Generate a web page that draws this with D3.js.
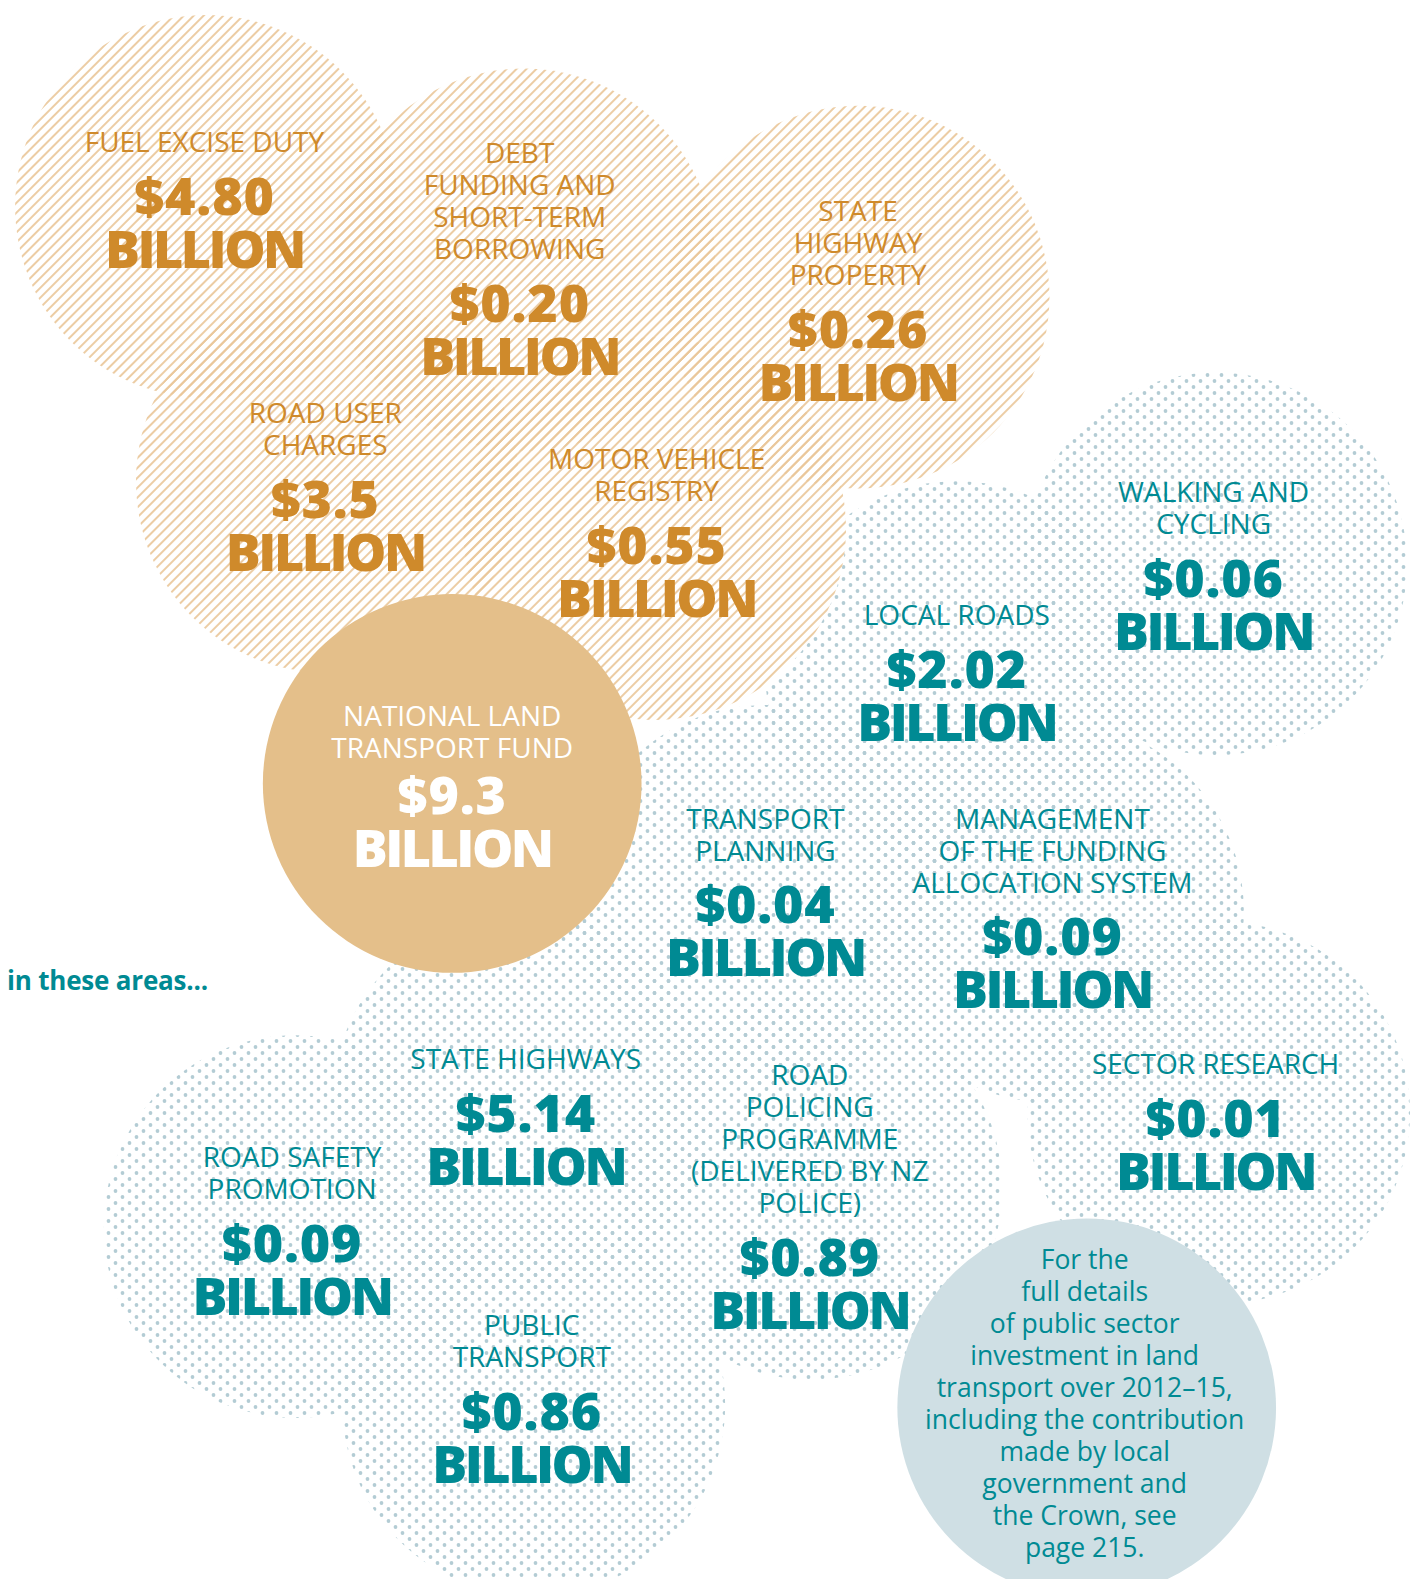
<!DOCTYPE html>
<html>
<head>
<meta charset="utf-8">
<script src="https://cdn.jsdelivr.net/npm/d3@7"></script>
<style>
  html, body { margin: 0; padding: 0; background: #ffffff; }
  svg { display: block; }
</style>
</head>
<body>
<svg id="chart" width="1411" height="1579"></svg>
<script>
// ---------- DATA ----------
// Funding sources (hatched bubbles)
const sourceLabels = [
  ["FUEL EXCISE DUTY"],
  ["DEBT", "FUNDING AND", "SHORT-TERM", "BORROWING"],
  ["STATE", "HIGHWAY", "PROPERTY"],
  ["ROAD USER", "CHARGES"],
  ["MOTOR VEHICLE", "REGISTRY"]
];
const sourceValues = [4.80, 0.20, 0.26, 3.5, 0.55];
const sourceDecimals = [2, 2, 2, 1, 2];

// Fund total
const fundLabel = ["NATIONAL LAND", "TRANSPORT FUND"];
const fundValue = 9.3;
const fundDecimals = 1;

// Investment areas (dotted bubbles)
const areaLabels = [
  ["WALKING AND", "CYCLING"],
  ["LOCAL ROADS"],
  ["TRANSPORT", "PLANNING"],
  ["MANAGEMENT", "OF THE FUNDING", "ALLOCATION SYSTEM"],
  ["SECTOR RESEARCH"],
  ["STATE HIGHWAYS"],
  ["ROAD SAFETY", "PROMOTION"],
  ["ROAD", "POLICING", "PROGRAMME", "(DELIVERED BY NZ", "POLICE)"],
  ["PUBLIC", "TRANSPORT"]
];
const areaValues = [0.06, 2.02, 0.04, 0.09, 0.01, 5.14, 0.09, 0.89, 0.86];
const areaDecimals = [2, 2, 2, 2, 2, 2, 2, 2, 2];

const unitWord = "BILLION";
const introText = "in these areas...";
const noteLines = ["For the", "full details", "of public sector", "investment in land",
  "transport over 2012\u201315,", "including the contribution", "made by local",
  "government and", "the Crown, see", "page 215."];

// ---------- LAYOUT (positions in layout units, 1401 x 1568 frame) ----------
const sourceCircles = [[205, 205], [520, 258], [852, 295], [325, 478], [650, 525]];
const sourceText = [[203, 140], [516, 151], [852, 209], [323, 409], [652, 455]];
const areaCircles = [[1207, 560], [950, 668], [760, 890], [1045, 905], [1210, 1105],
  [520, 1095], [293, 1218], [805, 1180], [530, 1395]];
const areaText = [[1205, 488], [950, 610], [760, 812], [1045, 812], [1207, 1056],
  [522, 1051], [290, 1148], [804, 1067], [528, 1315]];
const fundCircle = [449, 778];
const fundText = [449, 710];
const noteCircle = [1079, 1398];
const noteTextTop = [1077, 1250];
const introPos = [7, 973];
const bubbleR = 190;

// ---------- STYLE ----------
const ORANGE = "#cf8a2b";
const HATCH = "#eac79a";
const TEAL = "#008a93";
const DOT = "#b3ccd4";
const FUND = "#e4bf8a";
const NOTE = "#cfdfe4";
const labelFont = "'Open Sans', 'Noto Sans', sans-serif";

const W = 1411, H = 1579;
const x = d3.scaleLinear().domain([0, 1401]).range([0, W]);
const y = d3.scaleLinear().domain([0, 1568]).range([0, H]);
const r = d3.scaleLinear().domain([0, 1401]).range([0, W]);

const svg = d3.select("#chart");
const defs = svg.append("defs");

// hatch pattern
const hp = defs.append("pattern").attr("id", "hatch")
  .attr("patternUnits", "userSpaceOnUse").attr("width", 7.0).attr("height", 7.0)
  .attr("patternTransform", "rotate(45)");
hp.append("line").attr("x1", 1).attr("y1", 0).attr("x2", 1).attr("y2", 7.0)
  .attr("stroke", HATCH).attr("stroke-width", 1.8);

// dot pattern
const dp = defs.append("pattern").attr("id", "dots")
  .attr("patternUnits", "userSpaceOnUse").attr("width", 14).attr("height", 12);
dp.append("circle").attr("cx", 3.5).attr("cy", 3).attr("r", 1.9).attr("fill", DOT);
dp.append("circle").attr("cx", 10.5).attr("cy", 9).attr("r", 1.9).attr("fill", DOT);

const fmt = (v, d) => "$" + d3.format("." + d + "f")(v);

// dotted union
const gA = svg.append("g");
gA.selectAll("circle").data(areaCircles).join("circle")
  .attr("cx", d => x(d[0])).attr("cy", d => y(d[1])).attr("r", r(bubbleR))
  .attr("fill", "url(#dots)");

// hatched union (white under, hatch over)
const gS = svg.append("g");
gS.selectAll("circle.w").data(sourceCircles).join("circle").attr("class", "w")
  .attr("cx", d => x(d[0])).attr("cy", d => y(d[1])).attr("r", r(bubbleR))
  .attr("fill", "#fff");
gS.selectAll("circle.h").data(sourceCircles).join("circle").attr("class", "h")
  .attr("cx", d => x(d[0])).attr("cy", d => y(d[1])).attr("r", r(bubbleR))
  .attr("fill", "url(#hatch)");

// fund circle
svg.append("circle").attr("cx", x(fundCircle[0])).attr("cy", y(fundCircle[1]))
  .attr("r", r(188)).attr("fill", FUND);
// note circle
svg.append("circle").attr("cx", x(noteCircle[0])).attr("cy", y(noteCircle[1]))
  .attr("r", r(188)).attr("fill", NOTE);

const LABEL_STEP = 31.7, BILL_GAP = 52.5;

function bubbleText(g, labels, value, decimals, pos, color, valueGap) {
  const t = g.append("g");
  labels.forEach((ln, i) => {
    t.append("text").attr("x", x(pos[0])).attr("y", y(pos[1] + i * LABEL_STEP))
      .attr("text-anchor", "middle").attr("dominant-baseline", "central")
      .attr("font-family", labelFont).attr("font-size", 28).attr("font-weight", 400)
      .attr("fill", color).text(ln);
  });
  const last = pos[1] + (labels.length - 1) * LABEL_STEP;
  t.append("text").attr("x", x(pos[0])).attr("y", y(last + valueGap))
    .attr("text-anchor", "middle").attr("dominant-baseline", "central")
    .attr("font-family", labelFont).attr("font-size", 52).attr("font-weight", 800)
    .attr("letter-spacing", 0.8)
    .attr("fill", color).text(fmt(value, decimals));
  t.append("text").attr("x", x(pos[0])).attr("y", y(last + valueGap + BILL_GAP))
    .attr("text-anchor", "middle").attr("dominant-baseline", "central")
    .attr("font-family", labelFont).attr("font-size", 52).attr("font-weight", 800)
    .attr("letter-spacing", -2.5)
    .attr("fill", color).text(unitWord);
}

const gT = svg.append("g");
sourceLabels.forEach((l, i) => bubbleText(gT, l, sourceValues[i], sourceDecimals[i], sourceText[i], ORANGE, 53));
areaLabels.forEach((l, i) => bubbleText(gT, l, areaValues[i], areaDecimals[i], areaText[i], TEAL, 53));
bubbleText(gT, fundLabel, fundValue, fundDecimals, fundText, "#ffffff", 46);

// intro
svg.append("text").attr("x", x(introPos[0])).attr("y", y(introPos[1]))
  .attr("dominant-baseline", "central")
  .attr("font-family", labelFont).attr("font-size", 26).attr("font-weight", 700)
  .attr("letter-spacing", -0.2)
  .attr("fill", TEAL).text(introText);

// note text
noteLines.forEach((ln, i) => {
  svg.append("text").attr("x", x(noteTextTop[0])).attr("y", y(noteTextTop[1] + i * 31.8))
    .attr("text-anchor", "middle").attr("dominant-baseline", "central")
    .attr("font-family", labelFont).attr("font-size", 26.5).attr("font-weight", 400)
    .attr("fill", TEAL).text(ln);
});
</script>
</body>
</html>
